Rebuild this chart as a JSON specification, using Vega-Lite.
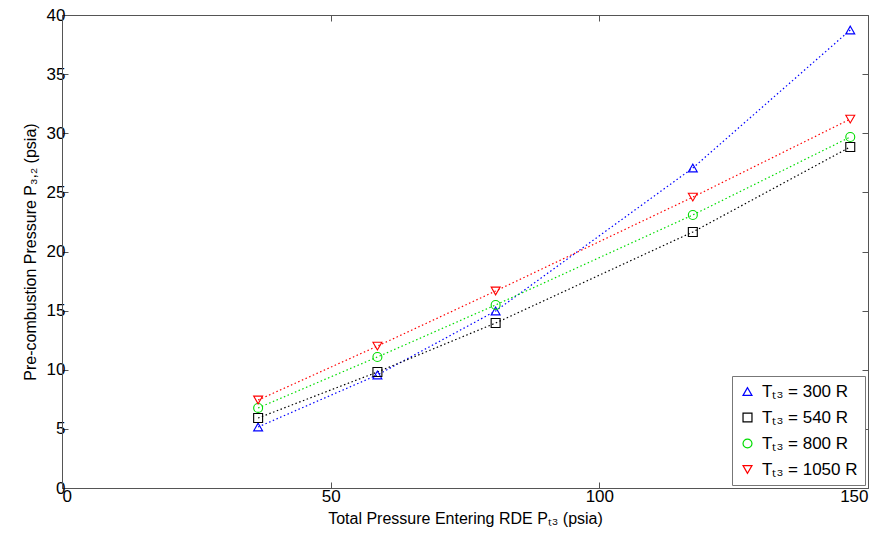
{
  "$schema": "https://vega.github.io/schema/vega-lite/v6.json",
  "width": 806,
  "height": 473,
  "autosize": "none",
  "padding": {"left": 62, "top": 15, "right": 15, "bottom": 45},
  "background": "white",
  "config": {
    "view": {"stroke": "#555", "strokeWidth": 1},
    "font": "Liberation Sans",
    "axis": {"grid": false, "domainColor": "#555", "tickColor": "#555", "labelColor": "#000", "titleColor": "#000", "labelFont": "Liberation Sans", "titleFont": "Liberation Sans", "labelFontSize": 17, "titleFontSize": 16, "titleFontWeight": "normal", "tickSize": -6}
  },
  "data": {
    "values": [
      {"P": 36.5, "P32": 5.16, "series": "Tₜ₃ = 300 R"},
      {"P": 58.7, "P32": 9.56, "series": "Tₜ₃ = 300 R"},
      {"P": 80.7, "P32": 14.97, "series": "Tₜ₃ = 300 R"},
      {"P": 117.4, "P32": 27.06, "series": "Tₜ₃ = 300 R"},
      {"P": 146.7, "P32": 38.73, "series": "Tₜ₃ = 300 R"},
      {"P": 36.5, "P32": 5.92, "series": "Tₜ₃ = 540 R"},
      {"P": 58.7, "P32": 9.81, "series": "Tₜ₃ = 540 R"},
      {"P": 80.7, "P32": 13.95, "series": "Tₜ₃ = 540 R"},
      {"P": 117.4, "P32": 21.65, "series": "Tₜ₃ = 540 R"},
      {"P": 146.7, "P32": 28.84, "series": "Tₜ₃ = 540 R"},
      {"P": 36.5, "P32": 6.77, "series": "Tₜ₃ = 800 R"},
      {"P": 58.7, "P32": 11.08, "series": "Tₜ₃ = 800 R"},
      {"P": 80.7, "P32": 15.48, "series": "Tₜ₃ = 800 R"},
      {"P": 117.4, "P32": 23.09, "series": "Tₜ₃ = 800 R"},
      {"P": 146.7, "P32": 29.68, "series": "Tₜ₃ = 800 R"},
      {"P": 36.5, "P32": 7.44, "series": "Tₜ₃ = 1050 R"},
      {"P": 58.7, "P32": 12.0, "series": "Tₜ₃ = 1050 R"},
      {"P": 80.7, "P32": 16.66, "series": "Tₜ₃ = 1050 R"},
      {"P": 117.4, "P32": 24.6, "series": "Tₜ₃ = 1050 R"},
      {"P": 146.7, "P32": 31.2, "series": "Tₜ₃ = 1050 R"}
    ]
  },
  "layer": [
    {
      "mark": {"type": "line", "strokeDash": [1.5, 2.5], "strokeWidth": 1.2},
      "encoding": {
        "x": {"field": "P", "type": "quantitative", "scale": {"domain": [0, 150], "nice": false}, "axis": {"values": [0, 50, 100, 150], "title": "Total Pressure Entering RDE Pₜ₃ (psia)", "labelPadding": 6, "titlePadding": 6}},
        "y": {"field": "P32", "type": "quantitative", "scale": {"domain": [0, 40], "nice": false}, "axis": {"values": [0, 5, 10, 15, 20, 25, 30, 35, 40], "title": "Pre-combustion Pressure P₃,₂ (psia)", "labelPadding": 3, "titlePadding": 8}},
        "color": {"field": "series", "type": "nominal", "scale": {"domain": ["Tₜ₃ = 300 R", "Tₜ₃ = 540 R", "Tₜ₃ = 800 R", "Tₜ₃ = 1050 R"], "range": ["#0000ff", "#000000", "#00dd00", "#ff0000"]}, "legend": {"title": null, "orient": "bottom-right", "offset": 3, "strokeColor": "#777", "fillColor": "white", "padding": 7, "labelFontSize": 17, "labelFont": "Liberation Sans", "symbolStrokeWidth": 1.2, "symbolSize": 80, "rowPadding": 8, "labelOffset": 6}}
      }
    },
    {
      "mark": {"type": "point", "filled": false, "size": 80, "strokeWidth": 1.1, "opacity": 1},
      "encoding": {
        "x": {"field": "P", "type": "quantitative", "axis": {"orient": "top", "values": [0, 50, 100, 150], "labels": false, "title": null, "domain": false}},
        "y": {"field": "P32", "type": "quantitative", "axis": {"orient": "right", "values": [0, 5, 10, 15, 20, 25, 30, 35, 40], "labels": false, "title": null, "domain": false}},
        "color": {"field": "series", "type": "nominal", "legend": {"title": null, "orient": "bottom-right", "offset": 3, "strokeColor": "#777", "fillColor": "white", "padding": 7, "labelFontSize": 17, "labelFont": "Liberation Sans", "symbolStrokeWidth": 1.2, "symbolSize": 80, "rowPadding": 8, "labelOffset": 6}},
        "shape": {"field": "series", "type": "nominal", "scale": {"domain": ["Tₜ₃ = 300 R", "Tₜ₃ = 540 R", "Tₜ₃ = 800 R", "Tₜ₃ = 1050 R"], "range": ["triangle-up", "square", "circle", "triangle-down"]}, "legend": {"title": null, "orient": "bottom-right", "offset": 3, "strokeColor": "#777", "fillColor": "white", "padding": 7, "labelFontSize": 17, "labelFont": "Liberation Sans", "symbolStrokeWidth": 1.2, "symbolSize": 80, "rowPadding": 8, "labelOffset": 6}}
      }
    }
  ],
  "resolve": {"axis": {"x": "independent", "y": "independent"}}
}
